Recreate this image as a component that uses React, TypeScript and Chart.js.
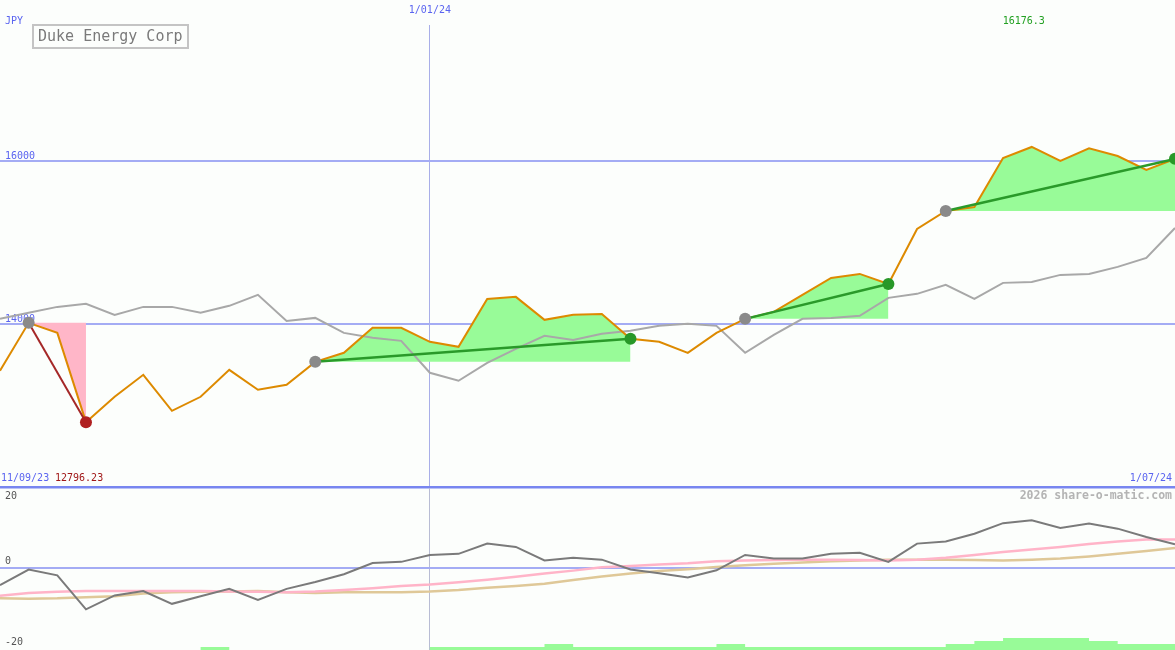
import React, { useEffect, useRef } from 'react';
import { Chart, registerables } from 'chart.js';

Chart.register(...registerables);

const FONT = '"DejaVu Sans Mono", monospace';
const BG = '#fcfefc';
const BLUE = '#5a64f0';

const title = 'Duke Energy Corp';
const currency = 'JPY';
const rangeStartLabel = '11/09/23';
const footer = '2026 share-o-matic.com';

const dates = [
  '18/09/23', '25/09/23', '2/10/23', '9/10/23', '16/10/23', '23/10/23', '30/10/23',
  '6/11/23', '13/11/23', '20/11/23', '27/11/23', '4/12/23', '11/12/23', '18/12/23',
  '25/12/23', '1/01/24', '8/01/24', '15/01/24', '22/01/24', '29/01/24', '5/02/24',
  '12/02/24', '19/02/24', '26/02/24', '4/03/24', '11/03/24', '18/03/24', '25/03/24',
  '1/04/24', '8/04/24', '15/04/24', '22/04/24', '29/04/24', '6/05/24', '13/05/24',
  '20/05/24', '27/05/24', '3/06/24', '10/06/24', '17/06/24', '24/06/24', '1/07/24',
];
const markerDates = ['1/01/24'];

const price = [
  13427, 14016, 13893, 12796.23, 13108, 13378, 12936, 13108, 13439, 13194, 13255,
  13537, 13648, 13955, 13955, 13783, 13722, 14310, 14335, 14053, 14114, 14126,
  13820, 13783, 13648, 13893, 14065, 14151, 14360, 14568, 14617, 14494, 15169,
  15390, 15439, 16040, 16176.3, 16004, 16160, 16065, 15893, 16030,
];
const average = [
  14065, 14139, 14212, 14249, 14114, 14212, 14212, 14139, 14225, 14360, 14040,
  14077, 13893, 13832, 13795, 13403, 13305, 13525, 13697, 13856, 13807, 13881,
  13918, 13979, 14004, 13979, 13648, 13869, 14065, 14077, 14102, 14323, 14372,
  14482, 14310, 14507, 14519, 14605, 14617, 14703, 14813, 15181,
];
const tradeStart = [1, 11, 26, 33];
const tradeEnd = [3, 22, 31, 41];
const priceTicks = [12000, 14000, 16000];

const oscillator = [
  -4.8, -0.5, -2.1, -11.4, -7.6, -6.4, -9.9, -7.8, -5.8, -8.8, -5.8, -3.9, -1.8,
  1.3, 1.6, 3.5, 3.8, 6.6, 5.7, 2.0, 2.7, 2.2, -0.5, -1.5, -2.7, -0.7, 3.5, 2.5,
  2.5, 3.8, 4.1, 1.6, 6.6, 7.2, 9.3, 12.2, 13.0, 10.9, 12.1, 10.7, 8.4, 6.4,
];
const signalFast = [
  -7.7, -6.9, -6.6, -6.4, -6.4, -6.4, -6.4, -6.4, -6.5, -6.6, -6.7, -6.5, -6.1,
  -5.6, -5.0, -4.6, -4.0, -3.3, -2.5, -1.6, -0.8, 0.1, 0.5, 0.9, 1.2, 1.8, 2.0,
  2.1, 2.2, 2.2, 2.1, 2.0, 2.2, 2.7, 3.5, 4.3, 5.0, 5.7, 6.5, 7.2, 7.7, 7.7,
];
const signalSlow = [
  -8.4, -8.5, -8.4, -8.1, -7.8, -7.1, -6.7, -6.6, -6.5, -6.4, -6.7, -6.9, -6.7,
  -6.7, -6.7, -6.5, -6.1, -5.5, -5.0, -4.4, -3.4, -2.4, -1.6, -0.9, -0.4, 0.2,
  0.7, 1.1, 1.4, 1.8, 2.0, 2.2, 2.2, 2.2, 2.1, 2.0, 2.2, 2.5, 3.1, 3.8, 4.6, 5.4,
];
const strength = [
  0, 0, 0, 0, 0, 0, 0, 1, 0, 0, 0, 0, 0, 0, 0, 1, 1, 1, 1, 2, 1, 1, 1, 1, 1, 2,
  1, 1, 1, 1, 1, 1, 1, 2, 3, 4, 4, 4, 3, 2, 2, 2,
];
const lowerTicks = [0];
const lowerLabelTicks = [20, -20];

const pts = (arr: number[]) => arr.map((v, i) => ({ x: i, y: v }));

const markerTicks = (s: any) => {
  s.ticks = markerDates.map((d) => ({ value: dates.indexOf(d) }));
};
const noPad = (s: any) => {
  s.paddingTop = 0;
  s.paddingBottom = 0;
  s.paddingLeft = 0;
  s.paddingRight = 0;
};

const mainText = {
  id: 'mainText',
  afterDraw(chart: any) {
    const ctx = chart.ctx as CanvasRenderingContext2D;
    const { right, bottom } = chart.chartArea;
    const xs = chart.scales.x;
    ctx.save();
    ctx.textBaseline = 'middle';
    ctx.font = `10px ${FONT}`;
    ctx.fillStyle = BLUE;
    ctx.textAlign = 'left';
    ctx.fillText(currency, 5, 21);
    ctx.strokeStyle = '#c4c4c4';
    ctx.lineWidth = 2;
    ctx.strokeRect(33, 25, 155, 23);
    ctx.font = `15px ${FONT}`;
    ctx.fillStyle = '#7a7a7a';
    ctx.textBaseline = 'alphabetic';
    ctx.fillText(title, 38, 41);
    ctx.textBaseline = 'middle';
    ctx.font = `10px ${FONT}`;
    let maxI = 0;
    let minI = 0;
    price.forEach((v, i) => {
      if (v > price[maxI]) maxI = i;
      if (v < price[minI]) minI = i;
    });
    ctx.fillStyle = '#22a022';
    ctx.textAlign = 'center';
    ctx.fillText(String(price[maxI]), xs.getPixelForValue(maxI) - 8, 21);
    ctx.textAlign = 'left';
    ctx.fillStyle = BLUE;
    ctx.fillText(rangeStartLabel, 1, bottom - 8.5);
    ctx.fillStyle = '#a01818';
    ctx.fillText(String(price[minI]), 55, bottom - 8.5);
    ctx.textAlign = 'right';
    ctx.fillStyle = BLUE;
    ctx.fillText(dates[dates.length - 1], right - 3, bottom - 8.5);
    ctx.restore();
  },
};

const lowerText = {
  id: 'lowerText',
  afterDraw(chart: any) {
    const ctx = chart.ctx as CanvasRenderingContext2D;
    const { right } = chart.chartArea;
    ctx.save();
    ctx.font = `bold 11.5px ${FONT}`;
    ctx.fillStyle = '#b4b4b4';
    ctx.textAlign = 'right';
    ctx.textBaseline = 'middle';
    ctx.fillText(footer, right - 3, 8.5);
    ctx.restore();
  },
};

export default function App() {
  const mainRef = useRef<HTMLCanvasElement>(null);
  const lowRef = useRef<HTMLCanvasElement>(null);

  useEffect(() => {
    document.body.style.margin = '0';
    document.body.style.background = BG;
    Chart.defaults.font.family = FONT;

    const fills = tradeStart.map((s, k) => {
      const e = tradeEnd[k];
      const gain = price[e] >= price[s];
      return {
        type: 'line' as const,
        data: price.slice(s, e + 1).map((v, j) => ({ x: s + j, y: v })),
        borderWidth: 0,
        pointRadius: 0,
        backgroundColor: gain ? '#98fb98' : '#ffb6c8',
        fill: { value: price[s] },
        tension: 0,
      };
    });
    const trends = tradeStart.map((s, k) => {
      const e = tradeEnd[k];
      const gain = price[e] >= price[s];
      return {
        type: 'line' as const,
        data: [{ x: s, y: price[s] }, { x: e, y: price[e] }],
        borderColor: gain ? '#2a9a2a' : '#a52828',
        borderWidth: gain ? 2.5 : 2,
        pointRadius: 0,
        fill: false,
      };
    });

    const main = new Chart(mainRef.current as HTMLCanvasElement, {
      type: 'line',
      data: {
        datasets: [
          {
            data: tradeEnd.map((i) => ({ x: i, y: price[i] })),
            showLine: false,
            pointRadius: 6,
            pointBorderWidth: 0,
            pointBackgroundColor: tradeEnd.map((e, k) =>
              price[e] >= price[tradeStart[k]] ? '#289828' : '#b02020'
            ),
          },
          {
            data: tradeStart.map((i) => ({ x: i, y: price[i] })),
            showLine: false,
            pointRadius: 6,
            pointBorderWidth: 0,
            pointBackgroundColor: '#8a8a8a',
          },
          ...trends,
          {
            data: pts(price),
            borderColor: '#dd8a00',
            borderWidth: 2,
            pointRadius: 0,
            tension: 0,
            fill: false,
          },
          {
            data: pts(average),
            borderColor: '#a8a8a8',
            borderWidth: 2,
            pointRadius: 0,
            tension: 0,
            fill: false,
          },
          ...fills,
        ] as any,
      },
      options: {
        responsive: false,
        animation: false,
        devicePixelRatio: 1,
        events: [],
        layout: { autoPadding: false, padding: { left: 0, right: 0, top: 0, bottom: 3 } },
        plugins: { legend: { display: false }, tooltip: { enabled: false } },
        scales: {
          x: {
            type: 'linear',
            position: 'top',
            min: 0,
            max: dates.length - 1,
            afterBuildTicks: markerTicks,
            afterFit: (s: any) => {
              s.height = 25;
              noPad(s);
            },
            ticks: {
              callback: (v: any) => dates[Math.round(Number(v))],
              color: BLUE,
              font: { family: FONT, size: 10 },
              padding: 9,
              maxRotation: 0,
              autoSkip: false,
            },
            grid: { color: '#a8aee8', lineWidth: 1, drawTicks: false },
            border: { display: false },
          },
          y: {
            type: 'linear',
            min: 12000,
            max: 17674,
            afterBuildTicks: (s: any) => {
              s.ticks = priceTicks.map((v) => ({ value: v }));
            },
            afterFit: (s: any) => {
              s.width = 0;
              noPad(s);
            },
            ticks: {
              mirror: true,
              padding: 5,
              labelOffset: -5,
              color: BLUE,
              font: { family: FONT, size: 10 },
              callback: (v: any) => (Number(v) === priceTicks[0] ? '' : String(v)),
            },
            grid: {
              drawTicks: false,
              color: (c: any) => (c.tick && c.tick.value === priceTicks[0] ? '#7886f0' : '#a4acf4'),
              lineWidth: (c: any) => (c.tick && c.tick.value === priceTicks[0] ? 2.5 : 2),
            },
            border: { display: false },
          },
        },
      } as any,
      plugins: [mainText],
    });

    const lower = new Chart(lowRef.current as HTMLCanvasElement, {
      type: 'line',
      data: {
        datasets: [
          {
            data: pts(oscillator),
            borderColor: '#7a7a7a',
            borderWidth: 2,
            pointRadius: 0,
            tension: 0,
            yAxisID: 'y',
          },
          {
            data: pts(signalFast),
            borderColor: '#ffb4c8',
            borderWidth: 2.5,
            pointRadius: 0,
            tension: 0,
            yAxisID: 'y',
          },
          {
            data: pts(signalSlow),
            borderColor: '#dfc898',
            borderWidth: 2.5,
            pointRadius: 0,
            tension: 0,
            yAxisID: 'y',
          },
          {
            data: pts(strength),
            borderWidth: 0,
            pointRadius: 0,
            stepped: 'before',
            fill: 'start',
            backgroundColor: '#98fb98',
            yAxisID: 'yHist',
          },
        ] as any,
      },
      options: {
        responsive: false,
        animation: false,
        devicePixelRatio: 1,
        events: [],
        layout: { autoPadding: false, padding: 0 },
        plugins: { legend: { display: false }, tooltip: { enabled: false } },
        scales: {
          x: {
            type: 'linear',
            min: 0,
            max: dates.length - 1,
            afterBuildTicks: markerTicks,
            afterFit: (s: any) => {
              s.height = 0;
              noPad(s);
            },
            ticks: { display: false },
            grid: { color: '#b8bcd4', lineWidth: 1, drawTicks: false },
            border: { display: false },
          },
          y: {
            type: 'linear',
            position: 'left',
            min: -22.55,
            max: 21.84,
            afterBuildTicks: (s: any) => {
              s.ticks = lowerTicks.map((v) => ({ value: v }));
            },
            afterFit: (s: any) => {
              s.width = 0;
              noPad(s);
            },
            ticks: {
              mirror: true,
              padding: 5,
              labelOffset: -6,
              color: '#555555',
              font: { family: FONT, size: 10 },
            },
            grid: { color: '#a4acf4', lineWidth: 2, drawTicks: false },
            border: { display: false },
          },
          yLab: {
            type: 'linear',
            position: 'left',
            min: -22.55,
            max: 21.84,
            afterBuildTicks: (s: any) => {
              s.ticks = lowerLabelTicks.map((v) => ({ value: v }));
            },
            afterFit: (s: any) => {
              s.width = 0;
              noPad(s);
            },
            ticks: {
              mirror: true,
              padding: 5,
              labelOffset: 2,
              color: '#555555',
              font: { family: FONT, size: 10 },
            },
            grid: { display: false },
            border: { display: false },
          },
          yHist: {
            type: 'linear',
            display: false,
            min: 0,
            max: 54,
          },
        },
      } as any,
      plugins: [lowerText],
    });

    return () => {
      main.destroy();
      lower.destroy();
    };
  }, []);

  return (
    <div
      style={{
        position: 'relative',
        width: 1175,
        height: 650,
        background: BG,
        overflow: 'hidden',
      }}
    >
      <canvas
        ref={mainRef}
        width={1175}
        height={490}
        style={{ position: 'absolute', left: 0, top: 0, width: 1175, height: 490 }}
      />
      <canvas
        ref={lowRef}
        width={1175}
        height={162}
        style={{ position: 'absolute', left: 0, top: 488, width: 1175, height: 162 }}
      />
    </div>
  );
}
